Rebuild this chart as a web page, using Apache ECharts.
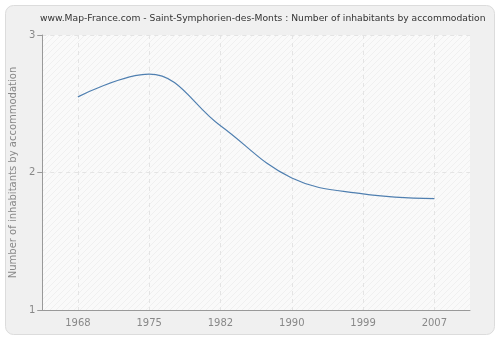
<!DOCTYPE html>
<html><head><meta charset="utf-8">
<script src="https://cdn.jsdelivr.net/npm/echarts@6/dist/echarts.min.js"></script>
<style>html,body{margin:0;padding:0;background:#fff}#c{width:500px;height:340px}</style>
</head><body><div id="c"></div>
<script>
var categories = ['1968','1975','1982','1990','1999','2007'];
var values = [2.55, 2.715, 2.34, 1.96, 1.845, 1.81];
var yTicks = [1, 2, 3];

var pc = document.createElement('canvas');
pc.width = 6; pc.height = 6;
var ctx = pc.getContext('2d');
ctx.fillStyle = '#fafafa'; ctx.fillRect(0,0,6,6);
ctx.strokeStyle = '#f0f0f0'; ctx.lineWidth = 1;
ctx.beginPath(); ctx.moveTo(0,6); ctx.lineTo(6,0); ctx.stroke();
ctx.beginPath(); ctx.moveTo(-1,1); ctx.lineTo(1,-1); ctx.stroke();
ctx.beginPath(); ctx.moveTo(5,7); ctx.lineTo(7,5); ctx.stroke();

var chart = echarts.init(document.getElementById('c'), null, {renderer:'canvas'});
chart.setOption({
  animation: false,
  backgroundColor: '#ffffff',
  graphic: [{
    type: 'rect', z: -10, silent: true,
    shape: {x: 5.5, y: 5.5, width: 489, height: 329, r: 8},
    style: {fill: '#f0f0f0', stroke: '#dcdcdc', lineWidth: 1}
  }],
  title: {
    text: 'www.Map-France.com - Saint-Symphorien-des-Monts : Number of inhabitants by accommodation',
    left: 35, top: 9,
    textStyle: {fontFamily: 'DejaVu Sans', fontSize: 9.2, fontWeight: 'normal', color: '#333'}
  },
  grid: {left: 40, right: 30, top: 35, bottom: 30, show: true,
    backgroundColor: {image: pc, repeat: 'repeat'}, borderWidth: 0},
  xAxis: {
    type: 'category', data: categories, boundaryGap: true,
    axisLine: {lineStyle: {color: '#999', width: 1}},
    axisTick: {alignWithLabel: true, length: 5, lineStyle: {color: '#999'}},
    axisLabel: {color: '#888', fontFamily: 'DejaVu Sans', fontSize: 10, margin: 8},
    splitLine: {show: true, alignWithLabel: true, lineStyle: {color: '#e4e4e4', type: [4,4]}}
  },
  yAxis: {
    type: 'value', min: yTicks[0], max: yTicks[yTicks.length-1], interval: 1,
    name: 'Number of inhabitants by accommodation', nameLocation: 'middle', nameGap: 24,
    nameTextStyle: {color: '#888', fontFamily: 'DejaVu Sans', fontSize: 10},
    axisLine: {show: true, lineStyle: {color: '#999', width: 1}},
    axisTick: {show: true, length: 5, lineStyle: {color: '#999'}},
    axisLabel: {color: '#888', fontFamily: 'DejaVu Sans', fontSize: 10, margin: 7},
    splitLine: {show: true, lineStyle: {color: '#e4e4e4', type: [4,4]}}
  },
  series: [{
    type: 'line', data: values, smooth: 0.4, symbol: 'none',
    lineStyle: {color: '#4f7fb0', width: 1.2}
  }]
});
</script></body></html>
